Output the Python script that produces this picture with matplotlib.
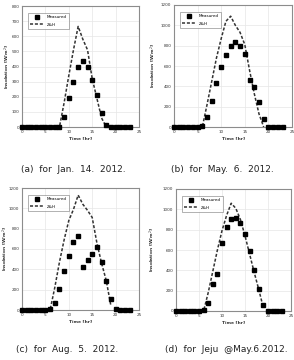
import matplotlib
matplotlib.use("Agg")
import matplotlib.pyplot as plt
import numpy as np

hours = list(range(24))

# (a) Jan. 14. 2012
meas_a = [0, 0, 0, 0, 0, 0, 0, 0, 0, 65, 195, 300, 395, 435, 400, 310, 210, 90, 10, 0, 0, 0, 0, 0]
model_a = [0, 0, 0, 0, 0, 0, 0, 0, 0, 160, 340, 510, 665, 580, 510, 320, 190, 60, 0]
# (b) May. 6. 2012
meas_b = [0, 0, 0, 0, 0, 0, 5, 95, 260, 436, 590, 705, 797, 833, 797, 715, 459, 393, 250, 82, 0, 0, 0, 0]
model_b = [0, 0, 0, 0, 0, 0, 0, 220, 450, 680, 870, 1040, 1090, 1000, 930, 810, 560, 330, 130, 0]
# (c) Aug. 5. 2012
meas_c = [0, 0, 0, 0, 0, 0, 10, 69, 210, 380, 534, 669, 731, 423, 495, 554, 623, 472, 285, 108, 5, 0, 0, 0]
model_c = [0, 0, 0, 0, 0, 0, 0, 220, 470, 690, 880, 990, 1130, 1040, 980, 910, 660, 460, 290, 40]
# (d) Jeju @May.6.2012
meas_d = [0, 0, 0, 0, 0, 0, 5, 76, 270, 360, 673, 824, 907, 910, 864, 758, 593, 402, 221, 59, 0, 0, 0, 0]
model_d = [0, 0, 0, 0, 0, 0, 0, 180, 390, 600, 790, 940, 1060, 1010, 900, 740, 560, 380, 210, 30]

captions = ["(a)  for  Jan.  14.  2012.", "(b)  for  May.  6.  2012.",
            "(c)  for  Aug.  5.  2012.", "(d)  for  Jeju  @May.6.2012."]
ymaxes = [800, 1200, 1200, 1200]
ysteps = [100, 200, 200, 200]
xticks = [0, 5, 10, 15, 20, 25]

W, H = 294, 360
fig = plt.figure(figsize=(W / 100, H / 100), dpi=100)
fig.patch.set_facecolor("white")

boxes = [(22, 139, 6, 127), (174, 292, 5, 127), (22, 139, 188, 310), (176, 291, 189, 311)]
cap_pos = [(73, 170), (222, 170), (67, 350), (226, 350)]
ylab_x = [7, 153, 5, 152]

datasets = [(meas_a, model_a), (meas_b, model_b), (meas_c, model_c), (meas_d, model_d)]

for i, ((meas, model), (l, r, t, b)) in enumerate(zip(datasets, boxes)):
    ax = fig.add_axes([l / W, 1 - b / H, (r - l) / W, (b - t) / H])
    ax.set_xlim(0, 25)
    ax.set_ylim(0, ymaxes[i])
    ax.set_xticks(xticks)
    ax.set_yticks(np.arange(0, ymaxes[i] + 1, ysteps[i]))
    ax.grid(True, color="#e6e6e6", linewidth=0.5)
    ax.set_axisbelow(True)
    for s in ax.spines.values():
        s.set_color("#8c8c8c")
        s.set_linewidth(0.8)
    ax.tick_params(labelsize=3, length=0, pad=2, colors="#333333")
    ax.plot(hours[:len(model)], model, linestyle=(0, (2.0, 1.2)), color="#333333",
            linewidth=1.1, label="Z&H", zorder=3)
    ax.plot(hours, meas, linestyle="none", marker="s", markersize=3.0,
            color="black", label="Measured", zorder=4, clip_on=False)
    h, lb = ax.get_legend_handles_labels()
    leg = ax.legend(h[::-1], lb[::-1], loc="upper left", fontsize=3, frameon=True,
                    fancybox=False, edgecolor="#777777", borderpad=0.6,
                    handlelength=3.2, labelspacing=0.8, bbox_to_anchor=(0.03, 0.96))
    leg.get_frame().set_linewidth(0.5)
    ax.set_xlabel("Time [hr]", fontsize=3.2, labelpad=2, fontweight="bold", color="#333333")
    fig.text(ylab_x[i] / W, 1 - ((t + b) / 2) / H, "Insolation [W/m$^2$]", rotation=90,
             fontsize=3.2, fontweight="bold", color="#333333", ha="center", va="center")
    cx, cy = cap_pos[i]
    fig.text(cx / W, 1 - cy / H, captions[i], fontsize=6.5, ha="center", va="center",
             color="#222222")

fig.savefig("out.png", dpi=100, facecolor="white")
